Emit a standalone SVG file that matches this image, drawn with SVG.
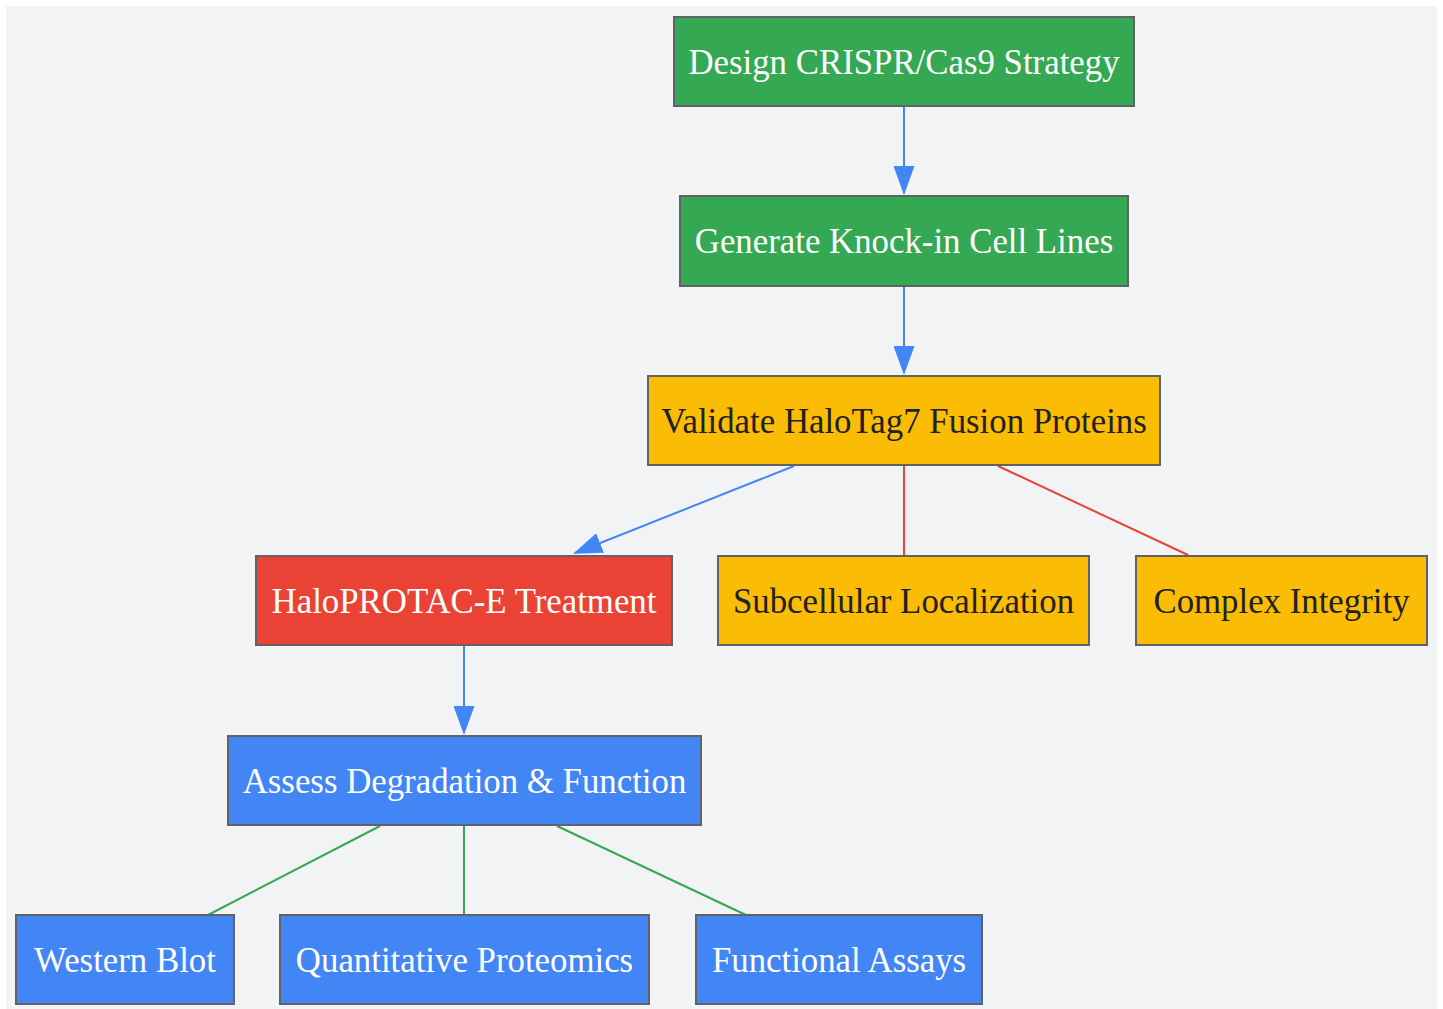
<svg xmlns="http://www.w3.org/2000/svg" width="1443" height="1009" viewBox="0 0 1443 1009">
<style>
.bg{fill:#F1F3F5}
.n{stroke:#5F6368;stroke-width:2}
.g{fill:#34A853}.y{fill:#FBBC05}.r{fill:#EA4335}.b{fill:#4285F4}
.t{font-family:"Liberation Serif","Times New Roman",serif;font-size:34.8px;text-anchor:middle}
.tw{fill:#FFFFFF}.td{fill:#202124}
.eb{stroke:#4285F4;stroke-width:2;fill:none}
.er{stroke:#EA4335;stroke-width:2;fill:none}
.eg{stroke:#34A853;stroke-width:2;fill:none}
</style>
<defs>
<marker id="ah" viewBox="0 0 29 21" refX="27" refY="10.5" markerWidth="29" markerHeight="21" markerUnits="userSpaceOnUse" orient="auto">
<path d="M0,0 L29,10.5 L0,21 z" fill="#4285F4"/>
</marker>
</defs>
<rect class="bg" x="6" y="6" width="1431" height="1003"/>
<g id="connectors">
<line class="eb" x1="904" y1="107" x2="904" y2="193" marker-end="url(#ah)"/>
<line class="eb" x1="904" y1="287" x2="904" y2="373" marker-end="url(#ah)"/>
<line class="eb" x1="794" y1="466" x2="575" y2="553" marker-end="url(#ah)"/>
<line class="er" x1="904" y1="466" x2="904" y2="556"/>
<line class="er" x1="998" y1="466" x2="1188" y2="555"/>
<line class="eb" x1="464" y1="646" x2="464" y2="733" marker-end="url(#ah)"/>
<line class="eg" x1="380" y1="826" x2="208" y2="915"/>
<line class="eg" x1="464" y1="826" x2="464" y2="915"/>
<line class="eg" x1="557" y1="826" x2="746" y2="915"/>
</g>
<g id="design">
<rect class="n g" x="674" y="17" width="460" height="89"/>
<text class="t tw" x="904" y="74">Design CRISPR/Cas9 Strategy</text>
</g>
<g id="generate">
<rect class="n g" x="680" y="196" width="448" height="90"/>
<text class="t tw" x="904" y="253">Generate Knock-in Cell Lines</text>
</g>
<g id="validate">
<rect class="n y" x="648" y="376" width="512" height="89"/>
<text class="t td" x="904" y="433">Validate HaloTag7 Fusion Proteins</text>
</g>
<g id="haloprotac">
<rect class="n r" x="256" y="556" width="416" height="89"/>
<text class="t tw" x="464" y="613">HaloPROTAC-E Treatment</text>
</g>
<g id="subcellular">
<rect class="n y" x="718" y="556" width="371" height="89"/>
<text class="t td" x="903.5" y="613">Subcellular Localization</text>
</g>
<g id="complex">
<rect class="n y" x="1136" y="556" width="291" height="89"/>
<text class="t td" x="1281.5" y="613">Complex Integrity</text>
</g>
<g id="assess">
<rect class="n b" x="228" y="736" width="473" height="89"/>
<text class="t tw" x="464.5" y="793">Assess Degradation &amp; Function</text>
</g>
<g id="western">
<rect class="n b" x="16" y="915" width="218" height="89"/>
<text class="t tw" x="125" y="972">Western Blot</text>
</g>
<g id="proteomics">
<rect class="n b" x="280" y="915" width="369" height="89"/>
<text class="t tw" x="464.5" y="972">Quantitative Proteomics</text>
</g>
<g id="functional">
<rect class="n b" x="696" y="915" width="286" height="89"/>
<text class="t tw" x="839" y="972">Functional Assays</text>
</g>
</svg>
